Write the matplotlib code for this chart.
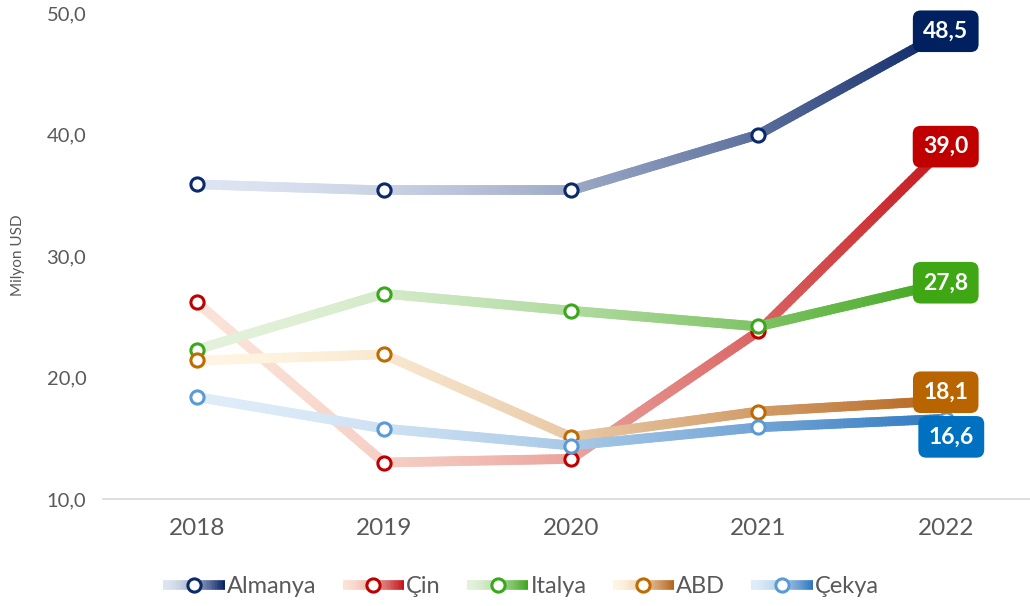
import matplotlib.pyplot as plt
import numpy as np
from matplotlib.collections import LineCollection
from matplotlib.colors import LinearSegmentedColormap
from matplotlib.legend_handler import HandlerBase
from matplotlib.lines import Line2D

plt.rcParams['font.family'] = ['Lato', 'DejaVu Sans']

years = ['2018', '2019', '2020', '2021', '2022']
ulkeler = ['Almanya', 'Çin', 'Italya', 'ABD', 'Çekya']

almanya = [35.9, 35.4, 35.4, 40.0, 48.5]
cin = [26.2, 13.0, 13.3, 23.8, 39.0]
italya = [22.3, 26.9, 25.5, 24.2, 27.8]
abd = [21.4, 21.9, 15.1, 17.2, 18.1]
cekya = [18.4, 15.8, 14.4, 15.9, 16.6]
seriler = [almanya, cin, italya, abd, cekya]

# renkler: açık başlangıç, koyu bitiş, marker kenarı, etiket kutusu
acik = ['#dde4f1', '#fbe2d6', '#e3f1da', '#fff5e2', '#deecf8']
koyu = ['#0a2566', '#c4161c', '#3fa61c', '#b5651d', '#2f78c0']
marker_renk = ['#0b2a6b', '#c00000', '#3aa81a', '#bf6b00', '#5b9bd5']
kutu_renk = ['#002060', '#c00000', '#3fa714', '#b86400', '#0070c0']
etiket_kayma = [(0, 0), (0, 0), (0, 0), (0, 6), (4, -13)]
GAMMA = 1.7


def gradyan_segmentler(x, y, n=200):
    # çizgiyi renk geçişi için küçük parçalara böl
    xs = np.linspace(x[0], x[-1], n)
    ys = np.interp(xs, x, y)
    pts = np.array([xs, ys]).T.reshape(-1, 1, 2)
    return np.concatenate([pts[:-1], pts[1:]], axis=1), xs


class GradyanHandler(HandlerBase):
    def __init__(self, cmap, edge):
        super().__init__()
        self.cmap = cmap
        self.edge = edge

    def create_artists(self, legend, orig_handle, xdescent, ydescent,
                       width, height, fontsize, trans):
        xs = np.linspace(-xdescent, width - xdescent, 40)
        yy = height / 2 - ydescent
        pts = np.array([xs, np.full_like(xs, yy)]).T.reshape(-1, 1, 2)
        segs = np.concatenate([pts[:-1], pts[1:]], axis=1)
        t = np.linspace(0, 1, len(segs)) ** GAMMA
        lc = LineCollection(segs, colors=self.cmap(t), linewidths=7,
                            capstyle='butt', transform=trans)
        m = Line2D([width / 2 - xdescent], [yy], marker='o', ms=9.5,
                   mfc='white', mec=self.edge, mew=2.2, ls='none', transform=trans)
        return [lc, m]


fig = plt.figure(figsize=(10.3, 6.06), dpi=100)
ax = fig.add_axes([0.1, 0.1766, 0.9, 0.8019])

x = np.arange(len(years))
handles = []
handler_map = {}
for i, (ad, vals) in enumerate(zip(ulkeler, seriler)):
    cmap = LinearSegmentedColormap.from_list(ad, [acik[i], koyu[i]])
    segs, xs = gradyan_segmentler(x, np.array(vals))
    t = (xs[:-1] / x[-1]) ** GAMMA
    lc = LineCollection(segs, colors=cmap(t), linewidths=7,
                        capstyle='round', zorder=2 + i * 0.1)
    ax.add_collection(lc)
    ax.plot(x, vals, ls='none', marker='o', ms=9.5, mfc='white',
            mec=marker_renk[i], mew=2.2, zorder=2.05 + i * 0.1)
    dx, dy = etiket_kayma[i]
    ax.annotate(f'{vals[-1]:.1f}'.replace('.', ','), (x[-1], vals[-1]),
                xytext=(dx, dy), textcoords='offset points',
                ha='center', va='center', color='white', fontsize=16.5,
                fontweight='bold', zorder=5,
                bbox=dict(boxstyle='round,pad=0.45,rounding_size=0.35',
                          fc=kutu_renk[i], ec='none'))
    h = Line2D([], [], label=ad)
    handles.append(h)
    handler_map[h] = GradyanHandler(cmap, marker_renk[i])

ax.set_xlim(-0.5, 4.45)
ax.set_ylim(10, 50)
ax.set_xticks(x)
ax.set_xticklabels(years)
ax.set_yticks([10, 20, 30, 40, 50])
ax.set_yticklabels(['10,0', '20,0', '30,0', '40,0', '50,0'])
ax.tick_params(axis='x', length=0, labelsize=17.5, labelcolor='#595959', pad=14)
ax.tick_params(axis='y', length=0, labelsize=14.5, labelcolor='#595959', pad=12)
for s in ['top', 'right', 'left']:
    ax.spines[s].set_visible(False)
ax.spines['bottom'].set_color('#d9d9d9')
ax.spines['bottom'].set_linewidth(1.2)

fig.text(0.017, 0.579, 'Milyon USD', rotation=90, ha='center', va='center',
         fontsize=11, color='#595959')

fig.legend(handles=handles, handler_map=handler_map, loc='center',
           bbox_to_anchor=(0.506, 0.032), ncol=5, frameon=False,
           fontsize=17, labelcolor='#595959', handlelength=2.6,
           handletextpad=0.1, columnspacing=1.1)

fig.savefig('out.png', dpi=100)
